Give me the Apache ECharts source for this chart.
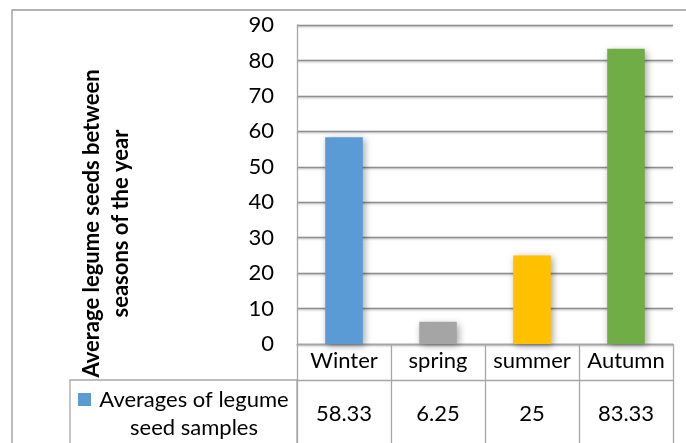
<!DOCTYPE html>
<html>
<head>
<meta charset="utf-8">
<script src="https://cdn.jsdelivr.net/npm/echarts@6/dist/echarts.min.js"></script>
<style>
  html, body { margin: 0; padding: 0; background: #fff; }
  #chart { width: 686px; height: 443px; }
</style>
</head>
<body>
<div id="chart"></div>
<script>
// Seasonal averages of legume seed samples
const seasons = ['Winter', 'spring', 'summer', 'Autumn'];
const averages = [58.33, 6.25, 25, 83.33];
const barColors = ['#5B9BD5', '#A5A5A5', '#FFC000', '#70AD47'];
const seriesName = 'Averages of legume seed samples';
const seriesNameLines = ['Averages of legume', 'seed samples'];
const yTitleLines = ['Average legume seeds between', 'seasons of the year'];
const yMin = 0, yMax = 90, yStep = 10;

const FONT = 'Lato';
const lineGray = '#a6a6a6';

const chart = echarts.init(document.getElementById('chart'), null, { renderer: 'canvas' });

chart.setOption({
  animation: false,
  textStyle: { fontFamily: FONT },
  grid: { left: 297, right: 13, top: 25, bottom: 99, containLabel: false },
  xAxis: [
    {
      // category row of the data table
      type: 'category',
      data: seasons,
      position: 'bottom',
      axisLine: { show: true, lineStyle: { color: lineGray, width: 1.3 } },
      axisTick: { show: true, interval: 0, length: 110, lineStyle: { color: lineGray, width: 1.3 } },
      axisLabel: { color: '#000', fontSize: 22, fontFamily: FONT, margin: 6, interval: 0 }
    },
    {
      // value row of the data table
      type: 'category',
      data: seasons,
      position: 'bottom',
      offset: 36,
      axisLine: { show: true, lineStyle: { color: lineGray, width: 1.3 } },
      axisTick: { show: false },
      axisLabel: {
        color: '#000', fontSize: 22, fontFamily: FONT, margin: 23, interval: 0,
        formatter: (v, i) => String(averages[i])
      }
    }
  ],
  yAxis: {
    type: 'value',
    min: yMin, max: yMax, interval: yStep,
    axisLine: { show: true, lineStyle: { color: lineGray, width: 1.3 } },
    axisTick: { show: false },
    axisLabel: { color: '#000', fontSize: 22, fontFamily: FONT, margin: 23 },
    splitLine: {
      lineStyle: {
        color: '#8f8f8f', width: 1.3,
        shadowColor: 'rgba(0,0,0,0.25)', shadowBlur: 2, shadowOffsetY: 1
      }
    }
  },
  series: [{
    name: seriesName,
    type: 'bar',
    barWidth: '40%',
    data: averages.map((v, i) => ({
      value: v,
      itemStyle: { color: barColors[i] }
    })),
    itemStyle: {
      shadowColor: 'rgba(0,0,0,0.35)', shadowBlur: 7, shadowOffsetX: 2, shadowOffsetY: 2
    }
  }],
  graphic: [
    // chart area frame
    { type: 'rect', silent: true, shape: { x: 12, y: 10, width: 700, height: 460 },
      style: { fill: 'none', stroke: '#999', lineWidth: 1.3 } },
    // legend cell of the data table
    { type: 'rect', silent: true, shape: { x: 70, y: 380, width: 227, height: 90 },
      style: { fill: 'none', stroke: lineGray, lineWidth: 1.3 } },
    { type: 'rect', silent: true, shape: { x: 78, y: 393, width: 13, height: 13 },
      style: { fill: barColors[0] } },
    { type: 'text', silent: true, x: 194, y: 386,
      style: { text: seriesNameLines.join('\n'), align: 'center', verticalAlign: 'top',
               font: '22px ' + FONT, fill: '#000', lineHeight: 28 } },
    // value-axis title
    { type: 'text', silent: true, x: 106.5, y: 223.5, rotation: Math.PI / 2,
      style: { text: yTitleLines.join('\n'), align: 'center', verticalAlign: 'middle',
               font: 'bold 22px ' + FONT, fill: '#000', lineHeight: 29 } }
  ]
});
</script>
</body>
</html>
